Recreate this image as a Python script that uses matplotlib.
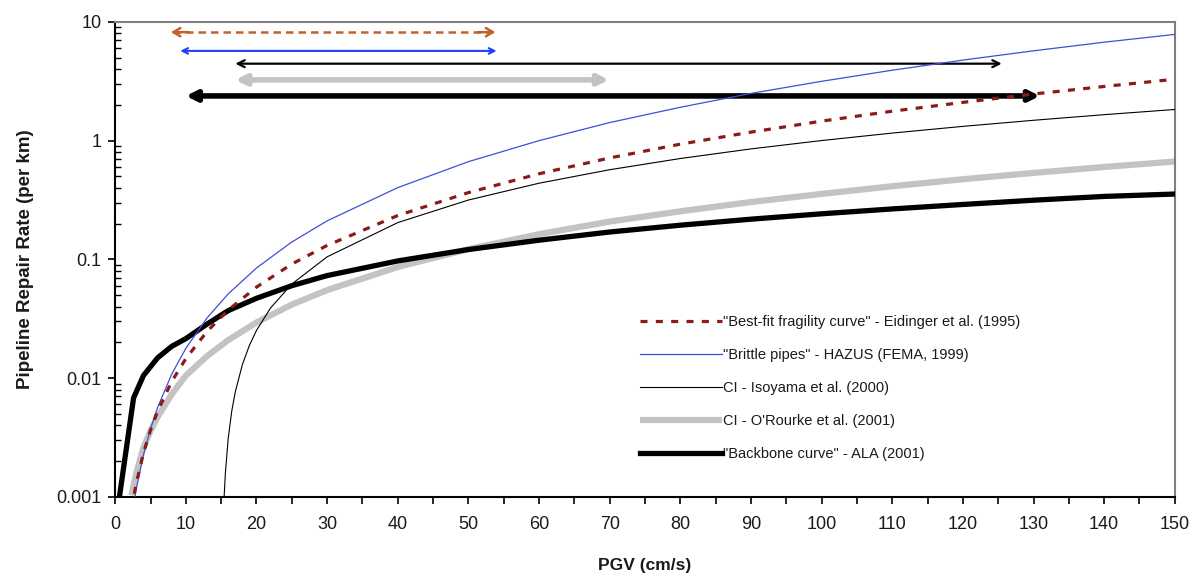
import matplotlib
matplotlib.use("Agg")
import matplotlib.pyplot as plt
from matplotlib.ticker import MultipleLocator, LogLocator, NullFormatter, FixedLocator

plt.rcParams['font.family'] = ['Liberation Sans', 'DejaVu Sans']

# Repair rate curves (repairs per km) against PGV (cm/s)
pgv_eid = [2.7, 3, 4, 5, 6, 8, 10, 13, 16, 20, 25, 30, 40, 50, 60, 70, 80, 90,
           100, 110, 120, 130, 140, 150]
rr_eid = [0.00106, 0.00131, 0.00234, 0.00365, 0.00526, 0.00934, 0.0146, 0.0247,
          0.0374, 0.0584, 0.0913, 0.131, 0.234, 0.365, 0.526, 0.715, 0.934, 1.18,
          1.46, 1.77, 2.10, 2.47, 2.86, 3.29]

pgv_hazus = [2.8, 3, 4, 5, 6, 8, 10, 13, 16, 20, 25, 30, 40, 50, 60, 70, 80, 90,
             100, 110, 120, 130, 140, 150]
rr_hazus = [0.00101, 0.00118, 0.00226, 0.00374, 0.00564, 0.0108, 0.0178, 0.0321,
            0.0512, 0.0846, 0.140, 0.211, 0.402, 0.665, 1.00, 1.42, 1.91, 2.50,
            3.16, 3.92, 4.77, 5.71, 6.75, 7.85]

pgv_iso = [15.42, 15.6, 16, 16.5, 17, 18, 19, 20, 22, 25, 30, 40, 50, 60, 70, 80,
           90, 100, 110, 120, 130, 140, 150]
rr_iso = [0.0010, 0.0016, 0.00311, 0.00527, 0.00766, 0.01297, 0.01886, 0.0252,
          0.0390, 0.0620, 0.105, 0.204, 0.316, 0.438, 0.569, 0.707, 0.852, 1.002,
          1.158, 1.319, 1.484, 1.655, 1.83]

pgv_orourke = [2.3, 3, 4, 5, 6, 8, 10, 13, 16, 20, 25, 30, 40, 50, 60, 70, 80,
               90, 100, 110, 120, 130, 140, 150]
rr_orourke = [0.00103, 0.00160, 0.0026, 0.0036, 0.0047, 0.0073, 0.0105, 0.0153,
              0.0209, 0.0294, 0.0416, 0.0551, 0.0862, 0.122, 0.163, 0.208, 0.254,
              0.304, 0.356, 0.413, 0.473, 0.535, 0.600, 0.667]

pgv_ala = [0.6, 2.6, 4, 6, 8, 10, 13, 16, 20, 25, 30, 40, 50, 60, 70, 80, 90,
           100, 110, 120, 130, 140, 150]
rr_ala = [0.001, 0.0068, 0.0105, 0.0148, 0.0185, 0.0215, 0.0285, 0.037, 0.047,
          0.060, 0.073, 0.097, 0.121, 0.145, 0.170, 0.194, 0.218, 0.242, 0.266,
          0.290, 0.315, 0.339, 0.355]

# PGV range of the data behind each relation (start, end, height on plot)
range_eid = (7.9, 53.8, 8.2)
range_hazus = (9.2, 54.0, 5.7)
range_iso = (17.0, 125.5, 4.45)
range_orourke = (17.0, 69.9, 3.25)
range_ala = (10.0, 130.9, 2.38)

labels = ['"Best-fit fragility curve" - Eidinger et al. (1995)',
          '"Brittle pipes" - HAZUS (FEMA, 1999)',
          'CI - Isoyama et al. (2000)',
          "CI - O'Rourke et al. (2001)",
          '"Backbone curve" - ALA (2001)']

c_eid = '#8b1a1a'
c_hazus = '#3f4fd8'
c_grey = '#c3c3c3'
c_range = '#c0622d'
c_text = '#1a1a1a'

fig = plt.figure(figsize=(12, 5.77), dpi=100)
ax = fig.add_axes([0.096, 0.139, 0.883, 0.823])

l4, = ax.plot(pgv_orourke, rr_orourke, color=c_grey, lw=4.5, solid_capstyle='butt', zorder=2)
l5, = ax.plot(pgv_ala, rr_ala, color='black', lw=3.8, zorder=3)
l3, = ax.plot(pgv_iso, rr_iso, color='black', lw=0.8, zorder=4)
l2, = ax.plot(pgv_hazus, rr_hazus, color=c_hazus, lw=0.9, zorder=5)
l1, = ax.plot(pgv_eid, rr_eid, color=c_eid, lw=2.3, ls=(0, (2.2, 2.6)), zorder=6)


def range_arrow(rng, color, lw, hl, hw):
    x0, x1, y = rng
    ax.annotate('', xy=(x1, y), xytext=(x0, y),
                arrowprops=dict(arrowstyle='<->,head_length=%g,head_width=%g' % (hl, hw),
                                color=color, lw=lw, shrinkA=0, shrinkB=0))


# dashed range arrow: dashed shaft with solid heads
x0, x1, y = range_eid
ax.plot([x0 + 0.3, x1 - 0.3], [y, y], color=c_range, lw=1.8, ls=(0, (3, 2)))
for tip, sgn in ((x0, 1), (x1, -1)):
    ax.annotate('', xy=(tip, y), xytext=(tip + sgn * 2.5, y),
                arrowprops=dict(arrowstyle='->,head_length=0.5,head_width=0.3',
                                color=c_range, lw=1.8, shrinkA=0, shrinkB=0))

range_arrow(range_hazus, '#1f3fff', 1.5, 0.4, 0.2)
range_arrow(range_iso, 'black', 1.6, 0.5, 0.25)
range_arrow(range_orourke, c_grey, 4, 0.6, 0.3)
range_arrow(range_ala, 'black', 4, 0.6, 0.3)

ax.set_yscale('log')
ax.set_xlim(0, 150)
ax.set_ylim(0.001, 10)

ax.xaxis.set_major_locator(MultipleLocator(10))
ax.xaxis.set_minor_locator(MultipleLocator(5))
ax.yaxis.set_major_locator(FixedLocator([0.001, 0.01, 0.1, 1, 10]))
ax.set_yticklabels(['0.001', '0.01', '0.1', '1', '10'])
ax.yaxis.set_minor_locator(LogLocator(base=10, subs=range(2, 10)))
ax.yaxis.set_minor_formatter(NullFormatter())

ax.tick_params(axis='both', which='major', labelsize=13, length=5, width=1.2,
               direction='out', labelcolor=c_text)
ax.tick_params(axis='x', which='major', pad=9)
ax.tick_params(axis='y', which='major', pad=5)
ax.tick_params(axis='x', which='minor', length=5, width=1.2, direction='out')
ax.tick_params(axis='y', which='minor', length=4, width=1.0, direction='in')

for side in ('left', 'bottom'):
    ax.spines[side].set_linewidth(1.5)
    ax.spines[side].set_color('black')
for side in ('top', 'right'):
    ax.spines[side].set_linewidth(1.5)
    ax.spines[side].set_color('#7f7f7f')

ax.set_xlabel('PGV (cm/s)', fontsize=12.5, fontweight='bold', labelpad=18, color=c_text)
ax.set_ylabel('Pipeline Repair Rate (per km)', fontsize=13.5, fontweight='bold',
              labelpad=16, color=c_text)

ax.legend([l1, l2, l3, l4, l5], labels, loc='upper left', bbox_to_anchor=(0.49, 0.395),
          frameon=False, fontsize=10.5, handlelength=5.6, handletextpad=0.1,
          labelspacing=1.3, borderaxespad=0, labelcolor=c_text)

fig.savefig('out.png', dpi=100)
